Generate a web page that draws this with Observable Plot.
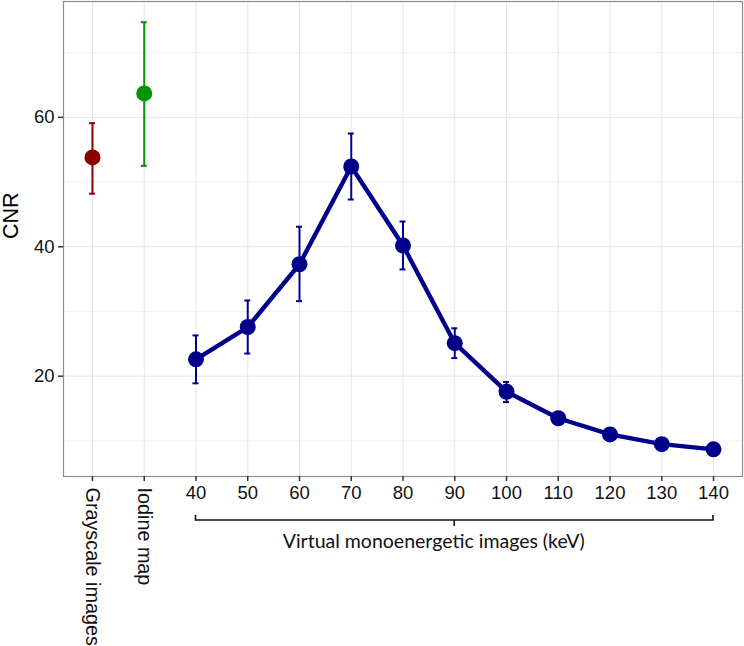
<!DOCTYPE html>
<html>
<head>
<meta charset="utf-8">
<script src="https://cdn.jsdelivr.net/npm/d3@7"></script>
<script src="https://cdn.jsdelivr.net/npm/@observablehq/plot@0.6"></script>
<style>
  html, body { margin: 0; padding: 0; background: #fff; }
  #chart svg { display: block; }
</style>
</head>
<body>
<div id="chart"></div>
<script>
// ---- data ----
const categories = ["Grayscale images", "Iodine map", "40", "50", "60", "70", "80", "90", "100", "110", "120", "130", "140"];
const groups     = ["gray", "iodine", "vmi", "vmi", "vmi", "vmi", "vmi", "vmi", "vmi", "vmi", "vmi", "vmi", "vmi"];
const cnr        = [53.8, 63.7, 22.6, 27.6, 37.3, 52.4, 40.2, 25.1, 17.6, 13.5, 11.0, 9.5, 8.7];
const cnrLow     = [48.2, 52.5, 18.9, 23.5, 31.6, 47.3, 36.5, 22.8, 16.0, 13.0, 10.6, 9.1, 8.3];
const cnrHigh    = [59.1, 74.7, 26.3, 31.7, 43.1, 57.5, 43.9, 27.4, 19.1, 14.0, 11.4, 9.9, 9.1];
const yTicks     = [20, 40, 60];
const yMinor     = [10, 30, 50, 70];
const groupColors = {gray: "#8b0000", iodine: "#009400", vmi: "#00008b"};
const bracketLabel = "Virtual monoenergetic images (keV)";
const bracketFrom = "40", bracketMid = "90", bracketTo = "140";

const rows = categories.map((c, i) => ({cat: c, group: groups[i], cnr: cnr[i], lo: cnrLow[i], hi: cnrHigh[i]}));
const vmi = rows.filter(d => d.group === "vmi");
const named = categories.filter((c, i) => groups[i] !== "vmi");
const yDomain = [4.5, 77.9];
const font = "Liberation Sans, Arial, Helvetica, sans-serif";

const plot = Plot.plot({
  width: 744,
  height: 646,
  marginLeft: 63,
  marginRight: 2,
  marginTop: 1,
  marginBottom: 170,
  style: {fontFamily: font, background: "#fff", color: "#000"},
  x: {type: "point", domain: categories, padding: 0.56, round: false, axis: null},
  y: {domain: yDomain, axis: null},
  marks: [
    Plot.gridY(yMinor, {stroke: "#f2f2f2", strokeOpacity: 1, strokeWidth: 1}),
    Plot.gridY(yTicks, {stroke: "#e6e6e6", strokeOpacity: 1, strokeWidth: 1}),
    Plot.gridX(categories, {stroke: "#e6e6e6", strokeOpacity: 1, strokeWidth: 1}),
    Plot.frame({stroke: "#8c8c8c", strokeWidth: 1.2}),
    Plot.axisY(yTicks, {tickSize: 5, tickPadding: 4, fontSize: 18.5, fontFamily: font, label: null, stroke: "#333", strokeWidth: 1.5, fill: "#111"}),
    Plot.axisX(categories, {tickSize: 5, tickPadding: 4, fontSize: 18.5, fontFamily: font, label: null, stroke: "#333", strokeWidth: 1.5, fill: "#111",
      tickFormat: d => groups[categories.indexOf(d)] === "vmi" ? d : ""}),
    Plot.text(named, {x: d => d, frameAnchor: "bottom", dy: 11, rotate: 90, textAnchor: "start", lineAnchor: "middle", fontSize: 19.8, fontFamily: font, fill: "#111"}),
    Plot.text(["CNR"], {frameAnchor: "left", dx: -52, rotate: -90, fontSize: 21.5, fontFamily: font, fill: "#000"}),
    Plot.line(vmi, {x: "cat", y: "cnr", stroke: groupColors.vmi, strokeWidth: 4.4}),
    Plot.ruleX(rows, {x: "cat", y1: "lo", y2: "hi", stroke: d => groupColors[d.group], strokeWidth: 2}),
    Plot.ruleY(rows, {x1: "cat", x2: "cat", y: "lo", insetLeft: -3, insetRight: -3, stroke: d => groupColors[d.group], strokeWidth: 2}),
    Plot.ruleY(rows, {x1: "cat", x2: "cat", y: "hi", insetLeft: -3, insetRight: -3, stroke: d => groupColors[d.group], strokeWidth: 2}),
    Plot.dot(rows, {x: "cat", y: "cnr", r: 8, fill: d => groupColors[d.group], stroke: "none"}),
    Plot.text([bracketLabel], {x: () => bracketMid, frameAnchor: "bottom", dy: 71, dx: -21, fontSize: 19.5, fill: "#111",
      fontFamily: "Lato, 'Open Sans', sans-serif"})
  ]
});

// bracket under the keV ticks, positioned with Plot's x scale
const xs = plot.scale("x");
const xa = xs.apply(bracketFrom), xb = xs.apply(bracketTo), xm = xs.apply(bracketMid);
const yBase = 646 - 170 + 44;
d3.select(plot).append("path")
  .attr("d", `M${xa},${yBase - 5}V${yBase}H${xb}V${yBase - 5}M${xm},${yBase}V${yBase + 6}`)
  .attr("fill", "none").attr("stroke", "#111").attr("stroke-width", 1.6);

document.getElementById("chart").appendChild(plot);
</script>
</body>
</html>
